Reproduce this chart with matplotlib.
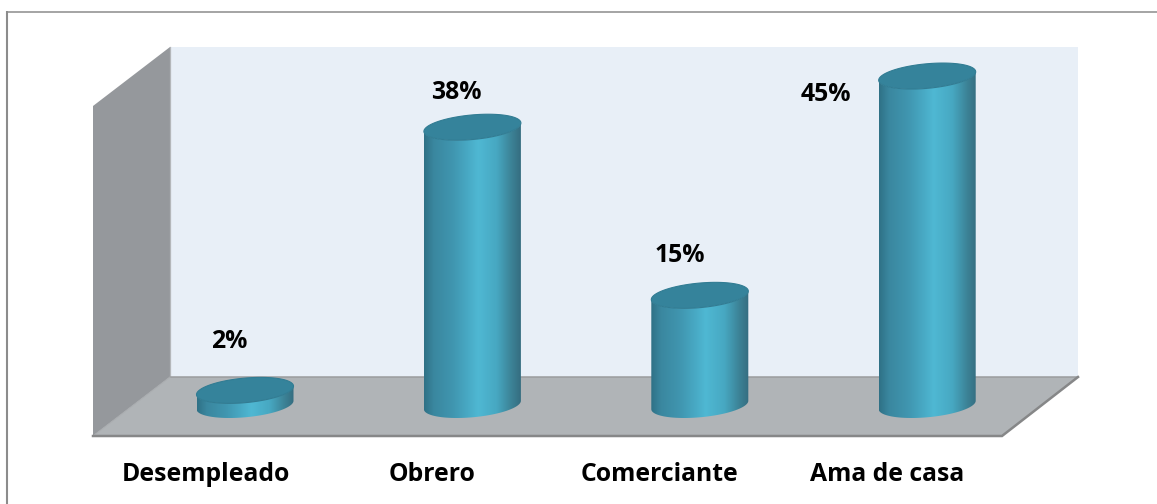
import numpy as np
import matplotlib
matplotlib.use("Agg")
import matplotlib.pyplot as plt
from matplotlib.colors import LinearSegmentedColormap
from matplotlib.patches import PathPatch, Polygon, Rectangle
from matplotlib.path import Path
from matplotlib.transforms import Affine2D

categories = ["Desempleado", "Obrero", "Comerciante", "Ama de casa"]
values = [2, 38, 15, 45]
value_labels = ["2%", "38%", "15%", "45%"]

WIDTH, HEIGHT = 1157, 504
BASE_PX = 405.0      # pixel row of the zero line
PX_PER_UNIT = 7.31   # pixels per percentage point
FIRST_PX = 245.0     # pixel column of the first cylinder
STEP_PX = 227.4      # pixel distance between cylinders

plt.rcParams["font.family"] = ["Open Sans", "DejaVu Sans"]

fig = plt.figure(figsize=(WIDTH / 100, HEIGHT / 100), dpi=100, facecolor="white")
ax = fig.add_axes([0, 0, 1, 1])
ax.set_xlim(-FIRST_PX / STEP_PX, (WIDTH - FIRST_PX) / STEP_PX)
ax.set_ylim((BASE_PX - HEIGHT) / PX_PER_UNIT, BASE_PX / PX_PER_UNIT)
ax.axis("off")

# Chart box and the 3D room are laid out in pixel coordinates, origin top left.
room = Affine2D().scale(1 / WIDTH, -1 / HEIGHT).translate(0, 1) + fig.transFigure

ax.plot([6.8, 6.8], [HEIGHT, 11], transform=room, color="#8c8c8c", lw=1.5,
        solid_capstyle="butt")
ax.plot([6, WIDTH], [11.5, 11.5], transform=room, color="#8c8c8c", lw=1.1,
        solid_capstyle="butt")
ax.add_patch(Rectangle((170, 47), 908, 331, transform=room, facecolor="#e8eff7",
                       edgecolor="none"))
ax.add_patch(Polygon([(93, 106), (170, 47), (170, 377), (93, 436)], transform=room,
                     facecolor="#95989c", edgecolor="none"))
ax.add_patch(Polygon([(170, 377), (1078, 377), (1002, 436), (93, 436)], transform=room,
                     facecolor="#b0b4b7", edgecolor="none"))
ax.plot([170, 170], [47, 377], transform=room, color="#b4b7ba", lw=0.9)
ax.plot([170, 1078], [377, 377], transform=room, color="#9a9c9e", lw=1.1)
ax.plot([93, 170], [436, 377], transform=room, color="#a9acaf", lw=0.8)
ax.plot([93, 1002, 1078], [436, 436, 377], transform=room, color="#868788", lw=1.8,
        solid_joinstyle="miter")

side_shade = LinearSegmentedColormap.from_list(
    "cylinder",
    [(0.00, "#2f7186"), (0.10, "#3a879f"), (0.30, "#4096b0"), (0.45, "#48a9c4"),
     (0.56, "#4fb8d3"), (0.75, "#47a8c2"), (0.90, "#3c8397"), (1.00, "#356d80")],
)

RX = 48.5 / STEP_PX                 # cylinder half width, category units
RY = 12.3 / PX_PER_UNIT             # ellipse half height, percentage points
TILT = 4.2 / PX_PER_UNIT            # rise of the ellipse towards its right end


def ellipse(cx, cy, t):
    return cx + RX * np.cos(t), cy + RY * np.sin(t) + TILT * np.cos(t)


for pos, value in enumerate(values):
    # Side wall: lower half of the base ellipse joined to the lower half of the top one.
    t_low = np.linspace(np.pi, 2 * np.pi, 80)
    bx, by = ellipse(pos, 0, t_low)
    tx, ty = ellipse(pos, value, t_low[::-1])
    verts = np.vstack([np.column_stack([bx, by]), np.column_stack([tx, ty])])
    outline = Path(np.vstack([verts, verts[0]]), closed=True)
    body = PathPatch(outline, facecolor="none", edgecolor="none", transform=ax.transData)
    ax.add_patch(body)
    img = ax.imshow(np.linspace(0, 1, 256)[None, :], cmap=side_shade, aspect="auto",
                    extent=(pos - RX, pos + RX, by.min() - 1, value + RY + TILT + 1),
                    zorder=3)
    img.set_clip_path(body)

    # Top cap with a slightly darker rim along its edge.
    t_full = np.linspace(0, 2 * np.pi, 160)
    cx_, cy_ = ellipse(pos, value, t_full)
    ax.fill(cx_, cy_, facecolor="#35839b", edgecolor="#317c93", linewidth=0.8, zorder=4)

ax.set_xlim(-FIRST_PX / STEP_PX, (WIDTH - FIRST_PX) / STEP_PX)
ax.set_ylim((BASE_PX - HEIGHT) / PX_PER_UNIT, BASE_PX / PX_PER_UNIT)

# Label positions in pixels: they sit off-centre from their cylinders.
category_x = [205.5, 432, 659, 887]
label_x = [229, 456, 680, 826]
label_y = [348, 99, 262, 101]

for x, name in zip(category_x, categories):
    ax.text(x, 481, name, transform=room, ha="center", va="baseline", fontsize=17.8,
            color="black", fontweight="bold")
for x, y, text in zip(label_x, label_y, value_labels):
    ax.text(x, y, text, transform=room, ha="center", va="baseline", fontsize=17.8,
            color="black", fontweight="bold", zorder=6)

fig.savefig("out.png", dpi=100, facecolor="white")
